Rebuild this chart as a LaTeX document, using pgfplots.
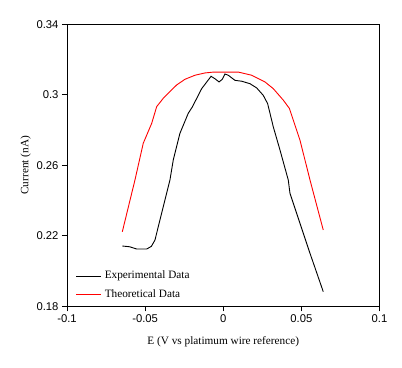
\documentclass[border=0pt]{standalone}
\usepackage{fontspec}
\setmainfont{Liberation Serif}
\newfontfamily\tickfont{Liberation Sans}
\usepackage{pgfplots}
\pgfplotsset{compat=1.18}
\begin{document}
\begin{tikzpicture}
\path[use as bounding box] (0,0) rectangle (402bp,368bp);
\begin{axis}[
 at={(67bp,61.7bp)}, anchor=south west,
 scale only axis, width=312.5bp, height=282bp,
 xmin=-0.1, xmax=0.1, ymin=0.18, ymax=0.34,
 xtick={-0.1,-0.05,0,0.05,0.1}, ytick={0.18,0.22,0.26,0.3,0.34},
 xtick pos=left, ytick pos=left,
 tick align=outside, major tick length=5bp,
 axis line style={line width=1bp},
 every tick/.style={black, line width=1bp},
 scaled ticks=false,
 /pgf/number format/assume math mode=true,
 tick label style={font=\tickfont\fontsize{11.3}{13}\selectfont},
 xticklabel={\pgfmathprintnumber[fixed,precision=2]{\tick}},
 yticklabel={\pgfmathprintnumber[fixed,precision=2]{\tick}},
 xlabel={E (V vs platimum wire reference)},
 ylabel={Current (nA)},
 label style={font=\fontsize{11.3}{13}\selectfont},
 xlabel style={at={(axis description cs:0.5,-0.125)}, anchor=center},
 ylabel style={at={(axis description cs:-0.132,0.5)}, anchor=center},
 legend style={draw=none, fill=none, at={(axis cs:-0.0946,0.1836)}, anchor=south west,
   font=\fontsize{11.3}{13}\selectfont, row sep=7.8bp, column sep=3.3bp, inner sep=0pt,
   nodes={inner sep=0pt, text height=8bp, text depth=2.5bp}},
 legend cell align=left,
 legend image code/.code={\draw[#1] (0bp,0bp) -- (25bp,0bp);},
]
\addplot[black, line width=0.9bp] coordinates {
(-0.0646,0.2142) (-0.0600,0.2138) (-0.0554,0.2125) (-0.0490,0.2125) (-0.0460,0.2140)
(-0.0437,0.2176) (-0.0384,0.2365) (-0.0341,0.2517) (-0.0320,0.2630) (-0.0277,0.2782)
(-0.0224,0.2895) (-0.0198,0.2931) (-0.0138,0.3035) (-0.0078,0.3105) (-0.0053,0.3091)
(-0.0027,0.3073) (-0.0006,0.3088) (0.0011,0.3118) (0.0032,0.3111) (0.0075,0.3082)
(0.0118,0.3077) (0.0171,0.3063) (0.0214,0.3039) (0.0256,0.2997) (0.0284,0.2950)
(0.0320,0.2819) (0.0363,0.2687) (0.0416,0.2517) (0.0427,0.2441) (0.0491,0.2271)
(0.0555,0.2101) (0.0640,0.1883)
};
\addlegendentry{Experimental Data}
\addplot[red, line width=0.9bp] coordinates {
(-0.0646,0.2223) (-0.0565,0.2517) (-0.0512,0.2725) (-0.0458,0.2838) (-0.0426,0.2933)
(-0.0384,0.2980) (-0.0298,0.3056) (-0.0245,0.3088) (-0.0181,0.3111) (-0.0117,0.3124)
(-0.0060,0.3129) (0.0096,0.3129) (0.0182,0.3111) (0.0267,0.3073) (0.0320,0.3035)
(0.0384,0.2970) (0.0423,0.2923) (0.0491,0.2743) (0.0555,0.2517) (0.0640,0.2233)
};
\addlegendentry{Theoretical Data}
\end{axis}
\end{tikzpicture}
\end{document}
